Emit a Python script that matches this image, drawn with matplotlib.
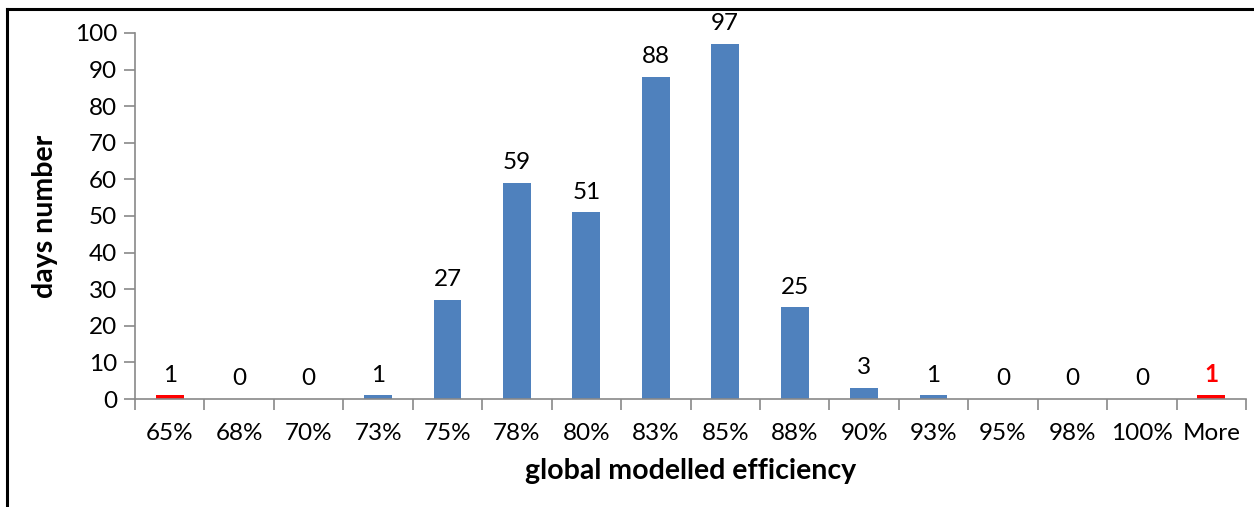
import matplotlib.pyplot as plt
from matplotlib.lines import Line2D

plt.rcParams['font.family'] = ['Lato', 'DejaVu Sans']

bins = ['65%', '68%', '70%', '73%', '75%', '78%', '80%', '83%',
        '85%', '88%', '90%', '93%', '95%', '98%', '100%', 'More']
days = [1, 0, 0, 1, 27, 59, 51, 88, 97, 25, 3, 1, 0, 0, 0, 1]
# bins flagged as outliers are drawn in red
outliers = ['65%', 'More']

blue = '#4F81BD'
red = '#FF0000'
grey = '#898989'

fig = plt.figure(figsize=(12.54, 5.07), dpi=100)
ax = fig.add_axes([0.1077, 0.213, 0.8859, 0.722])

x = list(range(len(bins)))
colors = [red if b in outliers else blue for b in bins]
ax.bar(x, days, width=0.4, color=colors, zorder=2)

for i, (b, v) in enumerate(zip(bins, days)):
    lab_color = red if b == 'More' else 'black'
    weight = 'bold' if b == 'More' else 'normal'
    ax.annotate(str(v), (i, v), xytext=(0, 7), textcoords='offset points',
                ha='center', va='bottom', fontsize=17.5, color=lab_color,
                fontweight=weight)

ax.set_xlim(-0.5, len(bins) - 0.5)
ax.set_ylim(0, 100)
ax.set_yticks(range(0, 101, 10))

# category ticks sit between bars, labels centred under bars
ax.set_xticks([i - 0.5 for i in range(len(bins) + 1)])
ax.set_xticklabels([])
ax.set_xticks(x, minor=True)
ax.set_xticklabels(bins, minor=True)
ax.tick_params(axis='x', which='minor', length=0, pad=17, labelsize=17.5)
ax.tick_params(axis='x', which='major', length=8, color=grey, width=1.2)
ax.tick_params(axis='y', length=8, color=grey, width=1.2, pad=5,
               labelsize=17.5)

for side in ['top', 'right']:
    ax.spines[side].set_visible(False)
for side in ['left', 'bottom']:
    ax.spines[side].set_color(grey)
    ax.spines[side].set_linewidth(1.2)

ax.set_xlabel('global modelled efficiency', fontsize=20.5, fontweight='bold',
              labelpad=10)
ax.set_ylabel('days number', fontsize=20.5, fontweight='bold', labelpad=12)

# chart frame
fig.add_artist(Line2D([0.0056, 1.0], [0.982, 0.982], color='black', lw=2.2,
                      transform=fig.transFigure))
fig.add_artist(Line2D([0.0056, 0.0056], [0.0, 0.982], color='black', lw=2.2,
                      transform=fig.transFigure))

fig.savefig('out.png', dpi=100)
